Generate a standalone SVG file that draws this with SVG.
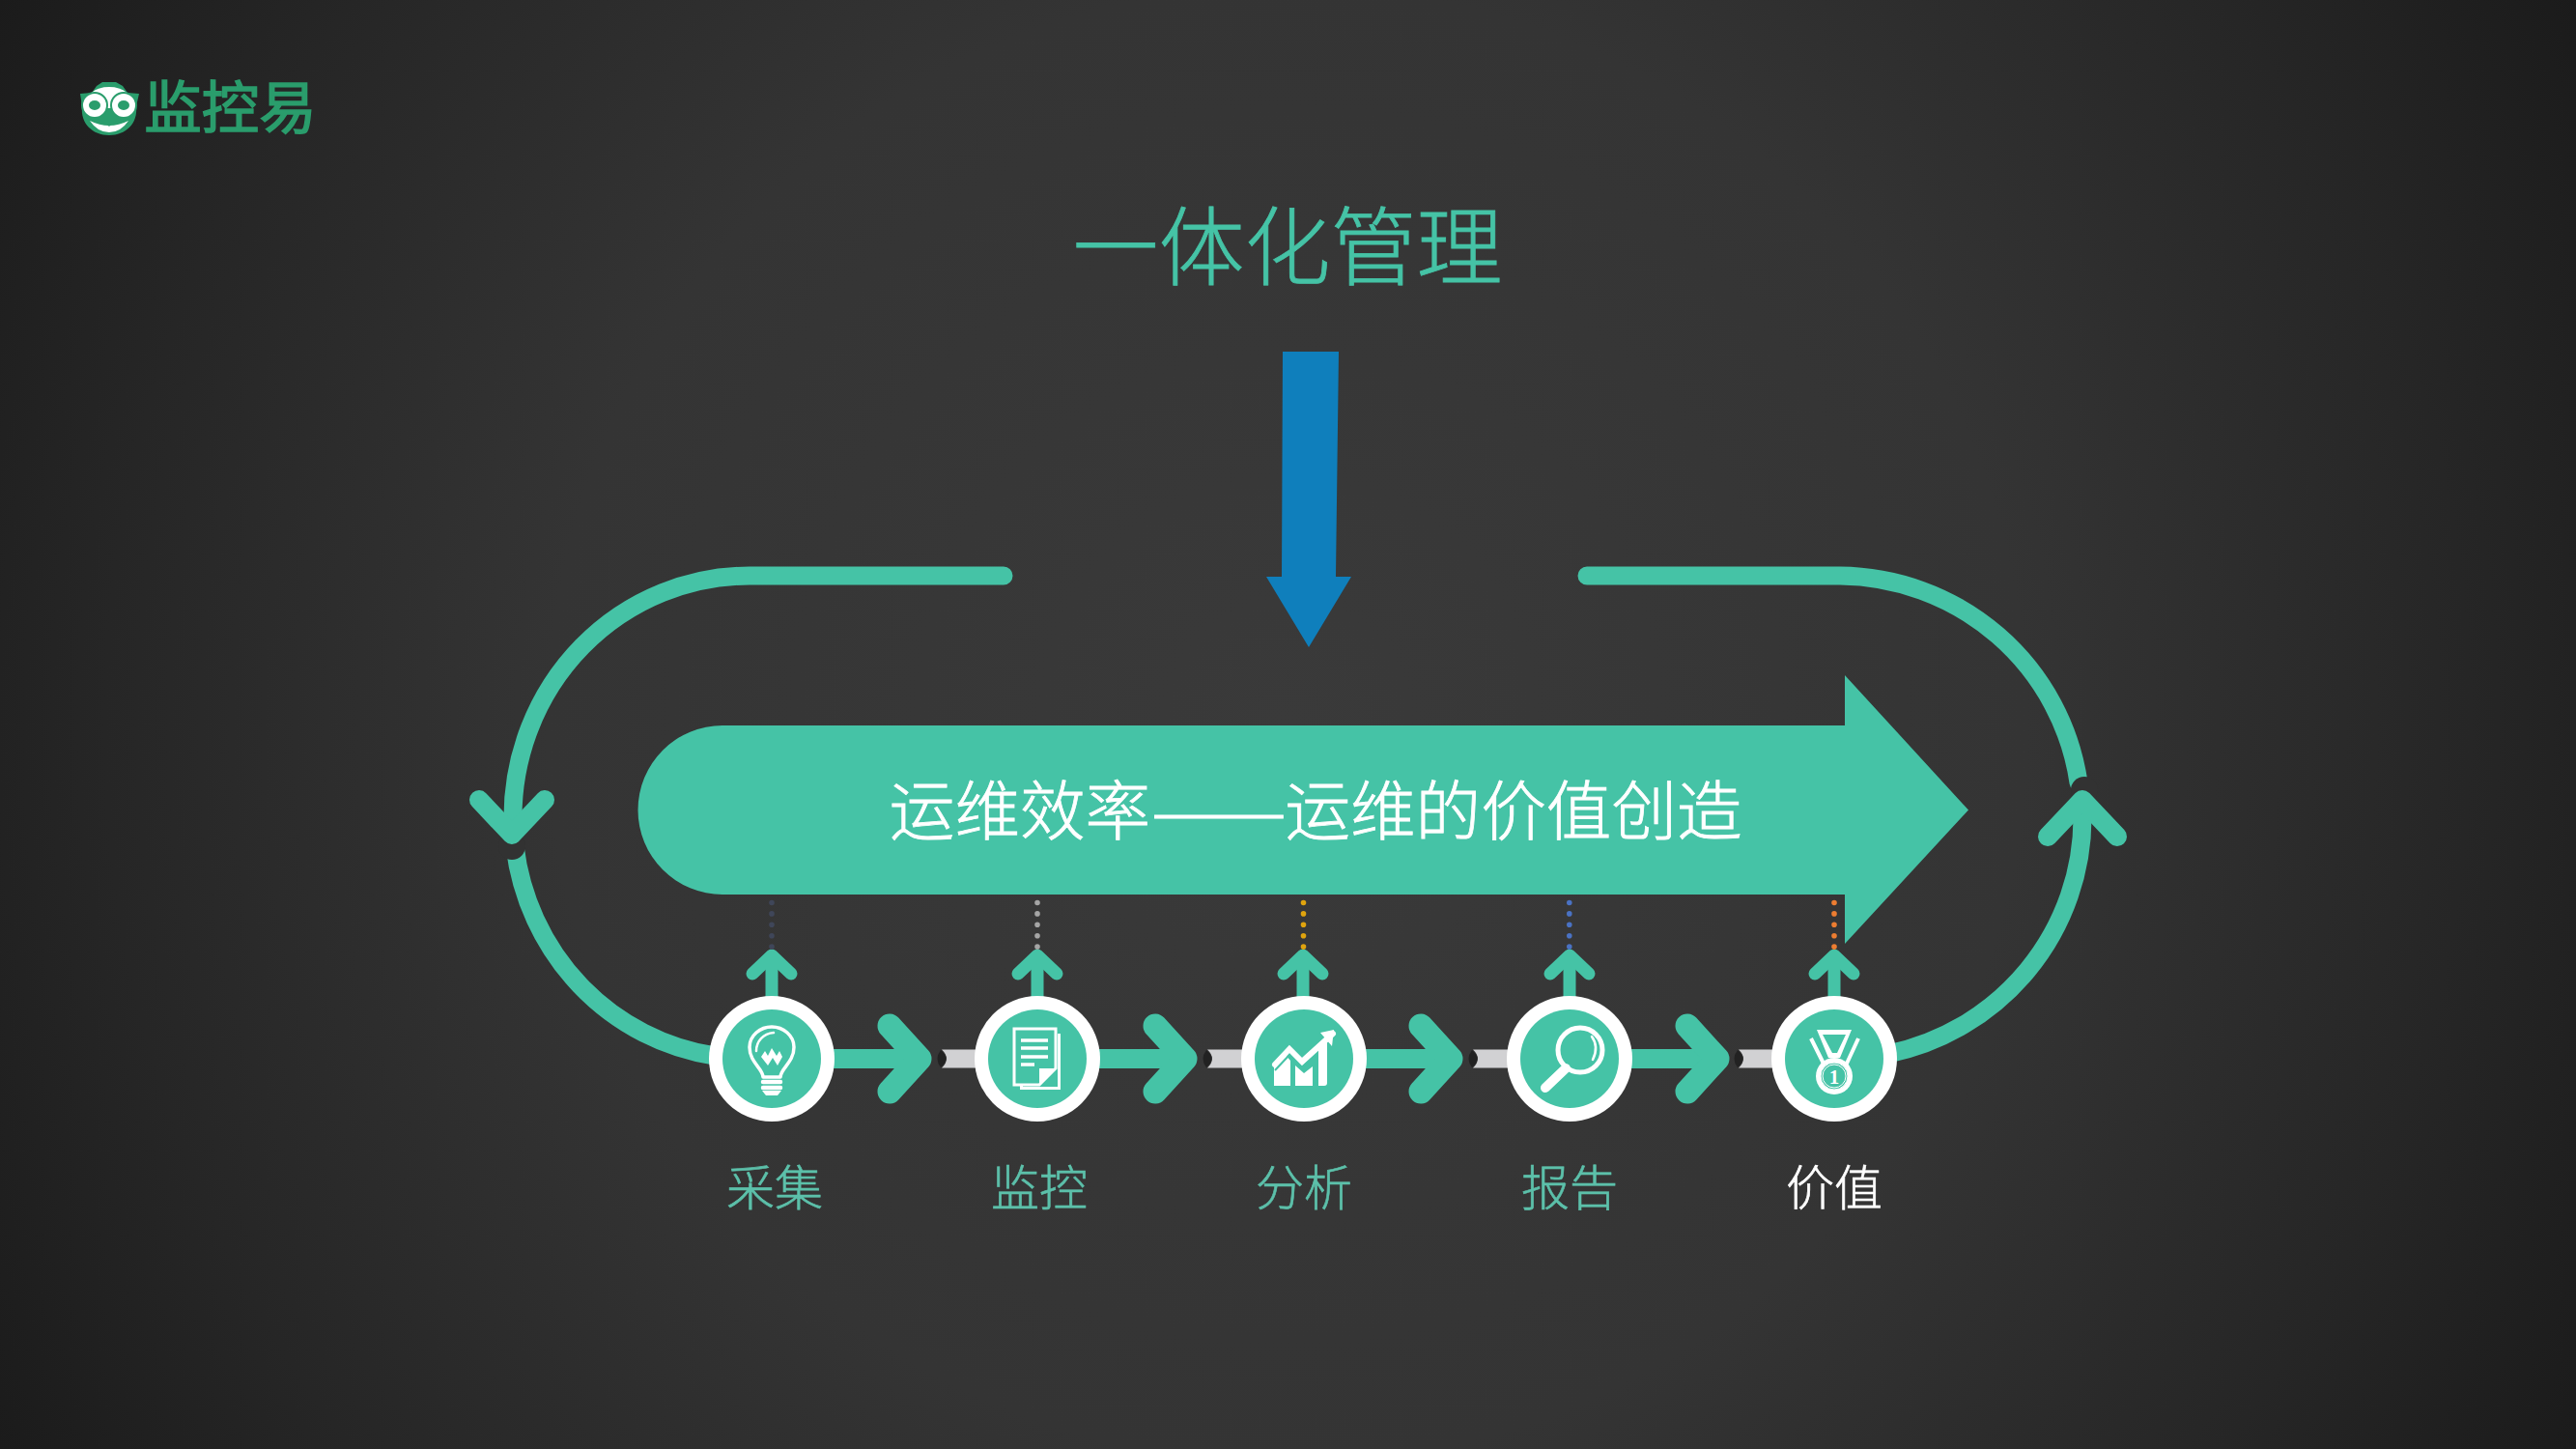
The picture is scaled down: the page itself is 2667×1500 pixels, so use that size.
<svg xmlns="http://www.w3.org/2000/svg" xmlns:xlink="http://www.w3.org/1999/xlink" width="2667" height="1500" viewBox="0 0 2667 1500">
<style>
text{font-family:"Noto Sans CJK SC","Noto Sans",sans-serif;text-anchor:middle}
.g{fill:#45c3a6}
.ln{fill:none;stroke:#45c3a6;stroke-linecap:round;stroke-linejoin:round}
.lb{fill:none;stroke:#45c3a6}
.ic{fill:none;stroke:#fff;stroke-linejoin:round;stroke-linecap:round}
.lab{font-size:50px;fill:#5cc0aa;font-weight:300;stroke:#5cc0aa;stroke-width:.6px}
.ban{font-size:67.6px;fill:#fff;font-weight:300;stroke:#fff;stroke-width:.8px}
.dots{fill:none;stroke-width:5.6;stroke-linecap:round;stroke-dasharray:0 11.4}
</style>
<defs>
<radialGradient id="bg" gradientUnits="userSpaceOnUse" cx="1333" cy="750" r="1530">
<stop offset="0" stop-color="#3a3a3a"/><stop offset=".5" stop-color="#343434"/><stop offset=".8" stop-color="#262626"/><stop offset="1" stop-color="#1b1b1b"/>
</radialGradient>
<g id="flow">
<path class="lb" stroke-width="20" d="M860 1096H950"/>
<path class="ln" stroke-width="25" d="M921 1062L952 1096L921 1130"/>
</g>
<g id="bar">
<path fill="#d1d1d3" d="M975 1086.500H1015V1105.500H975Q985 1096 975 1086.500Z"/>
<path fill="#222" d="M974 1087Q985 1096 974 1105Q967 1096 974 1087Z"/>
</g>
<g id="up">
<path class="lb" stroke-width="13" d="M799 1040V990"/>
<path class="ln" stroke-width="13" d="M779 1008L799 989L819 1008"/>
</g>
<g id="disc">
<circle r="65" fill="#fff"/><circle r="51" class="g"/>
</g>
</defs>
<rect width="2667" height="1500" fill="url(#bg)"/>

<g id="logo">
<path fill="#2a9d6c" d="M83 97L95 96L100 89L106 85H120L127 89L132 96L144 97L141 110C143 128 130 140 113 140C96 140 83 128 85 110Z"/>
<path fill="#fff" d="M113 90C128 90 136 98 138 108L113 121L88 108C90 98 98 90 113 90Z"/>
<path fill="#fff" d="M93 125Q113 135 133 125Q125 137 113 137Q101 137 93 125Z"/>
<path fill="#2a9d6c" d="M92 125Q103 120 113 131Q123 120 134 125L138 112H88Z"/>
<circle cx="98" cy="109" r="13" fill="#fff" stroke="#2a9d6c" stroke-width="2"/><circle cx="128" cy="109" r="13" fill="#fff" stroke="#2a9d6c" stroke-width="2"/>
<ellipse cx="98" cy="109" rx="6" ry="5" fill="#2a9d6c"/><ellipse cx="128" cy="109" rx="6" ry="5" fill="#2a9d6c"/>
<text x="238.500" y="133" font-size="59.500" font-weight="400" style="fill:#2a9d6c;stroke:#2a9d6c;stroke-width:1.5px">监控易</text>
</g>

<g id="title"><text x="1333" y="288" font-size="89" font-weight="300" class="g" style="stroke:#45c3a6;stroke-width:.8px">一体化管理</text></g>

<g id="blue-arrow"><path fill="#0f7fbc" d="M1328 364H1386L1383 597H1399L1355 670L1311 597H1327Z"/></g>

<g id="banner">
<path class="g" d="M748 751H1910V699L2038 838.500L1910 977V926H748A87.500 87.500 0 0 1 748 751Z"/>
<text class="ban" x="1056" y="864">运维效率</text>
<text class="ban" transform="translate(1262 864) scale(1.25 1)">——</text>
<text class="ban" x="1567" y="864">运维的价值创造</text>
</g>

<g id="connectors">
<path class="ln" stroke-width="19" d="M1039 596H776A245 250 0 0 0 531 846L530.500 866"/>
<path class="lb" stroke-width="19" d="M533 876A245 250 0 0 0 740 1093"/>
<circle cx="530" cy="876" r="14" fill="#323232"/>
<path class="ln" stroke-width="20" d="M496 828L530 864L564 828"/>
<path class="ln" stroke-width="19" d="M1643 596H1905A252 250 0 0 1 2152 810"/>
<path class="lb" stroke-width="19" d="M1955 1091A252 250 0 0 0 2156 846L2156 830"/>
<circle cx="2158" cy="818" r="14" fill="#323232"/>
<path class="ln" stroke-width="20" d="M2120 866L2156 828L2192 866"/>
<use xlink:href="#flow"/><use xlink:href="#flow" x="275"/><use xlink:href="#flow" x="550"/><use xlink:href="#flow" x="826"/>
<use xlink:href="#bar"/><use xlink:href="#bar" x="275"/><use xlink:href="#bar" x="550"/><use xlink:href="#bar" x="825"/>
<use xlink:href="#up"/><use xlink:href="#up" x="275"/><use xlink:href="#up" x="550"/><use xlink:href="#up" x="826"/><use xlink:href="#up" x="1100"/>
<path class="dots" stroke="#3f4659" d="M799 934.500V985"/>
<path class="dots" stroke="#a5a5a5" d="M1074 934.500V985"/>
<path class="dots" stroke="#e0a40e" d="M1349.500 934.500V985"/>
<path class="dots" stroke="#4a72c4" d="M1624.800 934.500V985"/>
<path class="dots" stroke="#ed7d31" d="M1899 934.500V985"/>
</g>

<g id="node-caiji" transform="translate(799 1096)">
<use xlink:href="#disc"/>
<path class="ic" stroke-width="3.500" d="M-9 19C-9 10 -23 4 -23 -12C-23 -24 -12 -33 0 -33C12 -33 23 -24 23 -12C23 4 9 10 9 19Z"/>
<path class="ic" stroke-width="2.500" d="M-16 -8C-16 -18 -9 -26 2 -27"/>
<path fill="#fff" d="M-11 -2L-7 -8L-4 -3L0 -11L5 -3L8 -8L11 -2L6 7L1 -1L-4 7Z"/>
<path class="ic" stroke-width="4.500" d="M-9 24H9M-9 30H9"/>
<path fill="#fff" d="M-10 33H10L6 38H-6Z"/>
</g>
<g id="node-jiankong" transform="translate(1074 1096)">
<use xlink:href="#disc"/>
<path fill="#fff" d="M-18 -26H24V32H-18ZM-15 -26V29H21V-26Z"/>
<path d="M-24 -31H19V10L2 27H-24Z" fill="#45c3a6" stroke="#fff" stroke-width="3"/>
<path d="M2 27L19 10H2Z" fill="#fff"/>
<path class="ic" stroke-width="3.500" style="stroke-linecap:butt" d="M-17 -19H11M-17 -11H11M-17 -2H11M-17 6H-3"/>
</g>
<g id="node-fenxi" transform="translate(1350 1096)">
<use xlink:href="#disc"/>
<path fill="#fff" d="M-31 28V8L-20 -5L-14 2V28ZM-9 28V7L0 15L9 8V28ZM15 28V-11L24 -19V25Q24 28 21 28Z"/>
<path fill="none" stroke="#fff" stroke-width="6" stroke-linecap="round" d="M-30 6L-15 -10L-2 3L30 -26"/>
<path fill="#fff" d="M17 -27L31 -30L29 -13Z"/>
<path fill="none" stroke="#45c3a6" stroke-width="2" d="M-30 12L-15 -4L-2 9L14 -5"/>
</g>
<g id="node-baogao" transform="translate(1625 1096)">
<use xlink:href="#disc"/>
<circle cx="11" cy="-9" r="23" fill="none" stroke="#fff" stroke-width="5"/>
<path class="ic" stroke-width="2.500" d="M23 -23C28 -16 28 -7 24 1"/>
<path class="ic" stroke-width="10" d="M-4 10L-25 30"/>
</g>
<g id="node-jiazhi" transform="translate(1899 1096)">
<use xlink:href="#disc"/>
<path fill="#fff" d="M-18 -30H18L6 -1H-6ZM-12 -25L-2 -6H3L12 -25Z"/>
<path fill="none" stroke="#fff" stroke-width="4" d="M-24 -21L-10 7M25 -21L12 7"/>
<circle cy="18" r="19" fill="#fff"/><circle cy="18" r="14" fill="#45c3a6" stroke="#fff" stroke-width="1" />
<circle cy="18" r="12" fill="#45c3a6" stroke="#fff" stroke-width="1"/>
<text y="26" font-size="21" font-weight="700" style="font-family:'Liberation Serif',serif" fill="#fff">1</text>
</g>

<g id="labels">
<text class="lab" x="802" y="1248">采集</text>
<text class="lab" x="1076" y="1248">监控</text>
<text class="lab" x="1350" y="1248">分析</text>
<text class="lab" x="1625" y="1248">报告</text>
<text class="lab" x="1899" y="1248" style="fill:#fff;stroke:#fff">价值</text>
</g>
</svg>
